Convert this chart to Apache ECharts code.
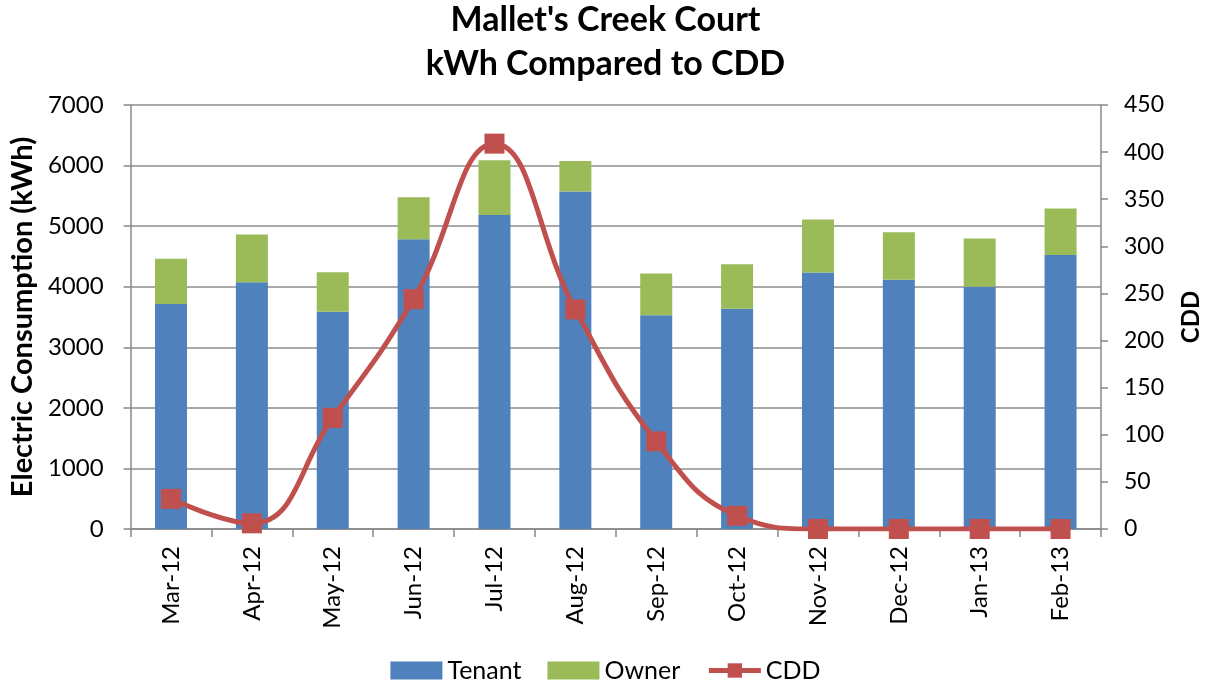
<!DOCTYPE html>
<html><head><meta charset="utf-8">
<script src="https://cdn.jsdelivr.net/npm/echarts@6/dist/echarts.min.js"></script>
<style>html,body{margin:0;padding:0;background:#fff}#c{width:1211px;height:685px}</style>
</head><body><div id="c"></div>
<script>
const categories = ['Mar-12','Apr-12','May-12','Jun-12','Jul-12','Aug-12','Sep-12','Oct-12','Nov-12','Dec-12','Jan-13','Feb-13'];
const tenant = [3713, 4075, 3586, 4784, 5185, 5570, 3527, 3636, 4235, 4113, 3998, 4525];
const owner  = [747, 787, 654, 692, 901, 505, 692, 736, 874, 786, 798, 765];
const cdd    = [32, 6, 118, 244, 409, 233, 93, 14, 0, 0, 0, 0];
const titleLines = ["Mallet's Creek Court", "kWh Compared to CDD"];

const font = 'Lato';
const chart = echarts.init(document.getElementById('c'));
chart.setOption({
  animation: false,
  textStyle: { fontFamily: font },
  title: {
    text: titleLines.join('\n'),
    left: 'center', top: -7,
    textStyle: { fontFamily: font, fontSize: 34, fontWeight: 'bold', color: '#000', lineHeight: 44 }
  },
  legend: {
    top: 653, left: 'center', itemGap: 26, itemWidth: 52, itemHeight: 18,
    textStyle: { fontFamily: font, fontSize: 25, color: '#000' },
    data: [
      { name: 'Tenant', icon: 'rect' },
      { name: 'Owner', icon: 'rect' },
      { name: 'CDD', lineStyle: { width: 5 } }
    ]
  },
  grid: { left: 130, right: 110, top: 105, bottom: 156 },
  xAxis: {
    type: 'category', data: categories,
    axisLine: { lineStyle: { color: '#888', width: 1.5 } },
    axisTick: { show: true, length: 8, alignWithLabel: false, lineStyle: { color: '#888', width: 1.5 } },
    axisLabel: { rotate: 90, fontSize: 24, color: '#000', fontFamily: font, margin: 17 }
  },
  yAxis: [
    {
      type: 'value', min: 0, max: 7000, interval: 1000,
      name: 'Electric Consumption (kWh)', nameLocation: 'middle', nameGap: 88,
      nameTextStyle: { fontSize: 29, fontWeight: 'bold', color: '#000', fontFamily: font },
      axisLine: { show: true, lineStyle: { color: '#888', width: 1.5 } },
      axisTick: { show: true, length: 7, lineStyle: { color: '#888', width: 1.5 } },
      axisLabel: { fontSize: 24, color: '#000', fontFamily: font, margin: 27, formatter: v => String(v) },
      splitLine: { lineStyle: { color: '#8c8c8c', width: 1.5 } }
    },
    {
      type: 'value', min: 0, max: 450, interval: 50, position: 'right',
      name: 'CDD', nameLocation: 'middle', nameGap: 78, nameRotate: 90,
      nameTextStyle: { fontSize: 24, fontWeight: 'bold', color: '#000', fontFamily: font },
      axisLine: { show: true, lineStyle: { color: '#888', width: 1.5 } },
      axisTick: { show: true, length: 7, lineStyle: { color: '#888', width: 1.5 } },
      axisLabel: { fontSize: 23, color: '#000', fontFamily: font, margin: 23 },
      splitLine: { show: false }
    }
  ],
  series: [
    { name: 'Tenant', type: 'bar', stack: 'kwh', data: tenant, barWidth: 32,
      itemStyle: { color: '#4F81BD' } },
    { name: 'Owner', type: 'bar', stack: 'kwh', data: owner, barWidth: 32,
      itemStyle: { color: '#9BBB59' } },
    { name: 'CDD', type: 'line', yAxisIndex: 1, data: cdd, smooth: 0.45,
      symbol: 'rect', symbolSize: 20,
      lineStyle: { color: '#C0504D', width: 5 },
      itemStyle: { color: '#C0504D' } }
  ]
});
</script>
</body></html>
